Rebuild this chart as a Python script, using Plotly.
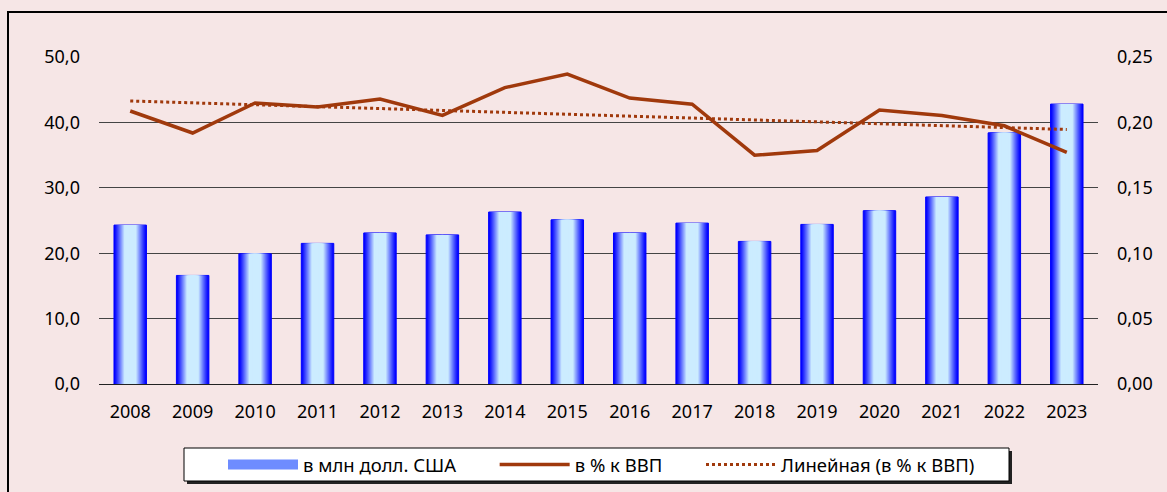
import plotly.graph_objects as go

years = ["2008", "2009", "2010", "2011", "2012", "2013", "2014", "2015",
         "2016", "2017", "2018", "2019", "2020", "2021", "2022", "2023"]
usd_mln = [24.3, 16.6, 19.9, 21.5, 23.1, 22.8, 26.3, 25.1,
           23.1, 24.6, 21.8, 24.4, 26.5, 28.6, 38.4, 42.8]
pct_gdp = [0.2087, 0.1919, 0.2148, 0.2118, 0.2179, 0.2053, 0.2266, 0.2370,
           0.2186, 0.2139, 0.1749, 0.1785, 0.2095, 0.2053, 0.1974, 0.1770]
trend_years = ["2008", "2023"]
trend_vals = [0.2164, 0.1946]

names = ["в млн долл. США", "в % к ВВП", "Линейная (в % к ВВП)"]

BG = "#F6E6E6"
LINE = "#A0390C"
FONT = "Noto Sans"
PAD = "\u00a0" * 7

# plot-area pixel geometry
W, H = 1167, 492
L, R, T, B = 99, 1098, 57, 384
pw, ph = R - L, B - T


def px(x):
    return (x - L) / pw


def py(y):
    return (B - y) / ph


fig = go.Figure()

# gradient bars via concentric overlaid bars
n = 16
blue = (0, 0, 255)
light = (204, 236, 255)
bw = 0.52
for k in range(n):
    f = min(1.0, k / (0.62 * n)) ** 1.1
    c = tuple(int(round(blue[i] + (light[i] - blue[i]) * f)) for i in range(3))
    fig.add_trace(go.Bar(
        x=years, y=usd_mln, yaxis="y",
        width=bw * (1 - k / n),
        marker=dict(color="rgb(%d,%d,%d)" % c,
                    line=dict(color="#0000FF", width=1 if k == 0 else 0)),
        name=names[0], showlegend=False,
        hoverinfo="skip" if k else None,
    ))

# legend swatch for the bar series
fig.add_trace(go.Scatter(
    x=[None], y=[None], mode="lines", yaxis="y",
    line=dict(color="#6E8CFF", width=12),
    name=names[0] + PAD, legendrank=1,
))

fig.add_trace(go.Scatter(
    x=years, y=pct_gdp, yaxis="y2", mode="lines",
    line=dict(color=LINE, width=3.5), name=names[1] + PAD, legendrank=2,
))
fig.add_trace(go.Scatter(
    x=trend_years, y=trend_vals, yaxis="y2", mode="lines",
    line=dict(color=LINE, width=3, dash="dot"), name=names[2], legendrank=3,
))

shapes = [
    # outer border
    dict(type="rect", xref="paper", yref="paper",
         x0=px(8), x1=px(1180), y0=py(505), y1=py(12),
         line=dict(color="black", width=2), fillcolor="rgba(0,0,0,0)", layer="below"),
    # legend shadow
    dict(type="rect", xref="paper", yref="paper",
         x0=px(187), x1=px(1012), y0=py(484), y1=py(451),
         line=dict(width=0), fillcolor="#222222", layer="above"),
    # legend box
    dict(type="rect", xref="paper", yref="paper",
         x0=px(184), x1=px(1009), y0=py(481), y1=py(448),
         line=dict(color="black", width=1), fillcolor="white", layer="above"),
]

fig.update_layout(
    width=W, height=H,
    margin=dict(l=L, r=W - R, t=T, b=H - B, autoexpand=False),
    paper_bgcolor=BG, plot_bgcolor=BG,
    separators=", ",
    barmode="overlay",
    font=dict(family=FONT, size=18, color="black"),
    showlegend=True,
    legend=dict(orientation="h", x=px(223), xanchor="left",
                y=py(465), yanchor="middle",
                bgcolor="rgba(0,0,0,0)", borderwidth=0,
                font=dict(family=FONT, size=18.5, color="black"),
                itemwidth=70, traceorder="normal"),
    xaxis=dict(type="category", showgrid=False, showline=False, zeroline=False,
               ticks="", ticklabelstandoff=15, tickfont=dict(size=18),
               automargin=False),
    yaxis=dict(range=[0, 50], dtick=10, tickformat=".1f",
               showgrid=True, gridcolor="#444444", gridwidth=1,
               zeroline=True, zerolinecolor="#222222", zerolinewidth=1,
               showline=False, ticks="", ticklabelstandoff=18, automargin=False),
    yaxis2=dict(range=[0, 0.25], dtick=0.05, tickformat=".2f",
                overlaying="y", side="right", showgrid=False, zeroline=False,
                showline=False, ticks="", ticklabelstandoff=18, automargin=False),
    shapes=shapes,
)

fig.write_html("out.html", config={"displayModeBar": False},
               post_script="document.body.style.margin='0';")
